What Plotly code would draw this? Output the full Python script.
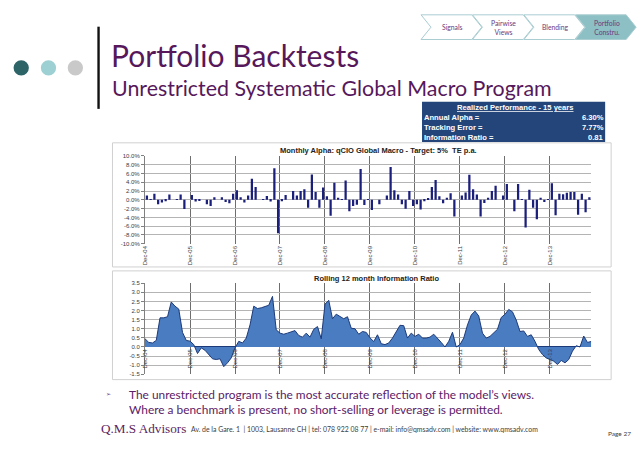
import plotly.graph_objects as go

W, H = 638, 451

# ---------------- data ----------------
alpha_months = list(range(119))
alpha_pct = [
    1.0, 0.1, 1.4, -1.0, -0.6, -0.3, 1.2, 0.0, 0.1, 1.2, -2.1, 0.0,
    1.1, -0.4, -0.2, 0.0, -1.0, -1.4, 0.6, 0.0, 0.6, -0.5, -0.8, 1.4,
    2.2, 0.6, -0.6, 1.0, 4.8, 2.9, 0.0, 0.1, 0.9, -0.4, 7.2, -7.6,
    -0.3, 1.1, 0.0, 2.0, 1.0, 2.0, 2.4, -1.8, 5.8, 1.8, -1.8, 2.8,
    0.8, -3.6, 3.9, 0.5, 0.1, 4.4, -2.6, -1.4, -1.1, 7.0, -1.2, 0.1,
    -2.3, 0.0, -1.0, 0.0, 1.0, 7.5, 2.2, 1.2, -1.0, -2.0, 2.0, -1.4,
    -1.0, -2.2, -0.3, 0.3, 2.9, 4.5, 0.8, -0.8, 0.5, 1.5, -3.8, 0.0,
    1.0, 1.7, 5.7, 2.4, 1.2, -3.8, -0.7, 0.5, 2.0, 3.2, 0.0, 1.0,
    3.6, 0.0, -2.6, 3.6, 0.2, -6.3, 2.3, -1.8, -4.4, 0.5, -0.5, 0.2,
    3.8, -3.5, 1.4, 1.3, 1.6, 1.8, 1.8, -3.4, 1.4, -2.8, 0.6,
]
ir_months = list(range(120))
rolling_ir = [
    0.45, 0.25, 0.22, 0.36, 1.6, 1.6, 1.66, 2.47, 2.24, 2.08, 0.8, 0.36,
    0.32, 0.13, -0.36, -0.05, -0.18, -0.42, -0.65, -0.69, -0.65, -1.08, -0.87, -0.6,
    -0.05, 0.31, 0.22, 0.49, 1.21, 2.24, 2.11, 2.15, 2.2, 2.29, 2.78, 0.94,
    0.76, 0.7, 0.76, 0.83, 0.9, 0.63, 0.54, 0.76, 0.54, 0.97, 1.12, 0.45,
    2.35, 2.56, 1.55, 1.8, 1.66, 1.55, 1.66, 1.03, 1.0, 0.7,
    0.85, 0.8, 0.5, 0.3, 0.67, 0.18, 0.13, 0.22, 0.49, 0.88, 1.19, 1.17,
    0.49, 0.76, 0.58, 0.7, 0.49, 0.49, 0.54, 0.7, 0.49, 0.25, 0.0, 0.31,
    0.81, 0.0, 0.13, 0.49, 1.21, 1.75, 1.97, 1.7, 0.76, 0.49, 0.58, 0.76,
    0.97, 1.62, 1.79, 2.06, 1.93, 1.48, 0.85, 0.88, 0.58, 0.67, 0.31, -0.14,
    -0.42, -0.6, -0.69, -0.78, -0.96, -0.74, -0.87, -0.69, -0.23, 0.07, 0.0, 0.6,
    0.25, 0.3,
]
year_labels = ["Dec-04", "Dec-05", "Dec-06", "Dec-07", "Dec-08",
               "Dec-09", "Dec-10", "Dec-11", "Dec-12", "Dec-13"]
alpha_tick_vals = [10, 8, 6, 4, 2, 0, -2, -4, -6, -8, -10]
alpha_tick_text = ["10.0%", "8.0%", "6.0%", "4.0%", "2.0%", "0.0%",
                   "-2.0%", "-4.0%", "-6.0%", "-8.0%", "-10.0%"]
ir_tick_vals = [3.5, 3.0, 2.5, 2.0, 1.5, 1.0, 0.5, 0.0, -0.5, -1.0, -1.5]
ir_tick_text = ["3.5", "3.0", "2.5", "2.0", "1.5", "1.0", "0.5", "0.0",
                "-0.5", "-1.0", "-1.5"]
perf_labels = ["Annual Alpha =", "Tracking Error =", "Information Ratio ="]
perf_values = ["6.30%", "7.77%", "0.81"]
steps = [("Signals", False), ("Pairwise<br>Views", False),
         ("Blending", False), ("Portfolio<br>Constru.", True)]


def X(px):
    return px / W


def Y(py):
    return 1 - py / H


ARIAL = "Liberation Sans, Arial, sans-serif"
CAL = "Lato, Carlito, Calibri, sans-serif"
PURPLE = "#57185b"

fig = go.Figure()

fig.add_trace(go.Bar(x=alpha_months, y=alpha_pct, marker_color="#1b1f7c",
                     marker_line_width=0, width=0.6, xaxis="x", yaxis="y",
                     showlegend=False))
fig.add_trace(go.Scatter(x=ir_months, y=rolling_ir, mode="lines", fill="tozeroy",
                         fillcolor="#4a7cc2", line=dict(color="#1d3a78", width=1),
                         xaxis="x2", yaxis="y2", showlegend=False))

tick_font = dict(family=ARIAL, size=6, color="#404040")

x_dom = [X(142.5), X(591)]
fig.update_layout(
    xaxis=dict(domain=x_dom, anchor="y", range=[-0.55, 118.5],
               tickvals=[12 * k - 0.5 for k in range(10)], ticktext=year_labels,
               tickangle=-90, tickfont=tick_font, showgrid=True,
               gridcolor="#6e6e6e", gridwidth=0.8, zeroline=False, ticks="",
               showline=False),
    yaxis=dict(domain=[Y(244), Y(155)], anchor="x", range=[-10, 10],
               tickvals=alpha_tick_vals, ticktext=alpha_tick_text, tickfont=tick_font,
               showgrid=True, gridcolor="#b4b4b4", gridwidth=0.7, zeroline=False,
               showline=True, linecolor="#808080", linewidth=0.8,
               ticks="outside", ticklen=3, tickcolor="#808080", tickwidth=0.7),
    xaxis2=dict(domain=x_dom, anchor="free",
                position=Y(284 + 0.7 * 92.3), range=[-0.05, 119],
                tickvals=[12 * k for k in range(10)], ticktext=year_labels,
                tickangle=-90, tickfont=tick_font, showgrid=True,
                gridcolor="#6e6e6e", gridwidth=0.8, zeroline=False, ticks="",
                showline=False),
    yaxis2=dict(domain=[Y(376.3), Y(284)], anchor="x2", range=[-1.5, 3.5],
                tickvals=ir_tick_vals, ticktext=ir_tick_text, tickfont=tick_font,
                showgrid=True, gridcolor="#b4b4b4", gridwidth=0.7,
                zeroline=True, zerolinecolor="#1d3a78", zerolinewidth=1,
                showline=True, linecolor="#808080", linewidth=0.8,
                ticks="outside", ticklen=3, tickcolor="#808080", tickwidth=0.7),
)

shapes = []
ann = []


def note(x, y, text, font, xanchor="left", yanchor="middle", **kw):
    d = dict(x=X(x), y=Y(y), xref="paper", yref="paper", text=text, showarrow=False,
             xanchor=xanchor, yanchor=yanchor, font=font)
    d.update(kw)
    ann.append(d)


# chart frames
shapes.append(dict(type="rect", xref="paper", yref="paper", x0=X(110), x1=X(611),
                   y0=Y(267.5), y1=Y(141.7), line=dict(color="#d0d0d0", width=1),
                   layer="below"))
shapes.append(dict(type="rect", xref="paper", yref="paper", x0=X(110), x1=X(611),
                   y0=Y(381.7), y1=Y(271.5), line=dict(color="#d0d0d0", width=1),
                   layer="below"))

# circles + bar
for cx, col in [(18.3, "#2c6467"), (45.7, "#9dd0d2"), (72.7, "#c9c9c9")]:
    r = 7.7
    shapes.append(dict(type="circle", xref="paper", yref="paper", x0=X(cx - r),
                       x1=X(cx + r), y0=Y(65.7 + r), y1=Y(65.7 - r),
                       fillcolor=col, line=dict(width=0)))
shapes.append(dict(type="rect", xref="paper", yref="paper", x0=X(94.8), x1=X(97.2),
                   y0=Y(107.3), y1=Y(24), fillcolor="#111111", line=dict(width=0)))

# chevrons
for k, (label, active) in enumerate(steps):
    x0 = 420 + 51.7 * k
    w, d, t, b = 61, 10, 12, 37
    m = (t + b) / 2
    pts = [(x0, t), (x0 + w - d, t), (x0 + w, m), (x0 + w - d, b), (x0, b), (x0 + d, m)]
    path = "M " + " L ".join(f"{X(px):.5f},{Y(py):.5f}" for px, py in pts) + " Z"
    shapes.append(dict(type="path", xref="paper", yref="paper", path=path,
                       fillcolor="#8dc0c4" if active else "white",
                       line=dict(color="#a9cdd1", width=1)))
    note(x0 + w / 2 + 1, m, label, dict(family=CAL, size=6.8, color="#6b3a7c"),
         xanchor="center")

# titles
note(107, 52.5, "Portfolio Backtests", dict(family=CAL, size=30, color=PURPLE))
note(108, 86.5, "Unrestricted Systematic Global Macro Program",
     dict(family=CAL, size=21.4, color=PURPLE))

# performance table
shapes.append(dict(type="rect", xref="paper", yref="paper", x0=X(421), x1=X(605),
                   y0=Y(141), y1=Y(100), fillcolor="#23457a", line=dict(width=0)))
tfont = dict(family=ARIAL, size=7.6, color="white")
note(515, 106,
     "<span style='text-decoration:underline'><b>Realized Performance - 15 years</b></span>",
     tfont, xanchor="center")
for j, (lab, val) in enumerate(zip(perf_labels, perf_values)):
    yy = 116.2 + 10.1 * j
    note(420.5, yy, f"<b>{lab}</b>", tfont)
    note(605.5, yy, f"<b>{val}</b>", tfont, xanchor="right")

# chart titles
note(377, 149.5, "<b>Monthly Alpha: qCIO Global Macro - Target: 5%  TE p.a.</b>",
     dict(family=ARIAL, size=7.5, color="#222222"), xanchor="center")
note(375, 279.5, "<b>Rolling 12 month Information Ratio</b>",
     dict(family=ARIAL, size=7.5, color="#222222"), xanchor="center")

# bullet text
note(106.5, 396, "➢", dict(family="DejaVu Sans", size=6, color="#6b3a7c"),
     xanchor="center")
note(124.5, 404,
     "The unrestricted program is the most accurate reflection of the model’s views.<br>"
     "Where a benchmark is present, no short-selling or leverage is permitted.",
     dict(family=CAL, size=11.9, color="#5b2168"), align="left")

# footer
note(96, 431.5, "Q.M.S Advisors",
     dict(family="Liberation Serif, Times New Roman, serif", size=13.2, color="#5b1f5f"))
note(186.5, 432.5,
     "Av. de la Gare. 1  | 1003, Lausanne CH | tel: 078 922 08 77 | "
     "e-mail: info@qmsadv.com | website: www.qmsadv.com",
     dict(family=CAL, size=6.9, color="#404040"))
note(633, 436, "Page 27", dict(family=CAL, size=6.5, color="#404040"), xanchor="right")

fig.update_layout(width=W, height=H, margin=dict(l=0, r=0, t=0, b=0),
                  paper_bgcolor="white", plot_bgcolor="white",
                  shapes=shapes, annotations=ann, bargap=0.4)

fig.write_html("out.html", config={"displayModeBar": False},
               post_script="document.body.style.margin='0';document.body.style.padding='0';")
